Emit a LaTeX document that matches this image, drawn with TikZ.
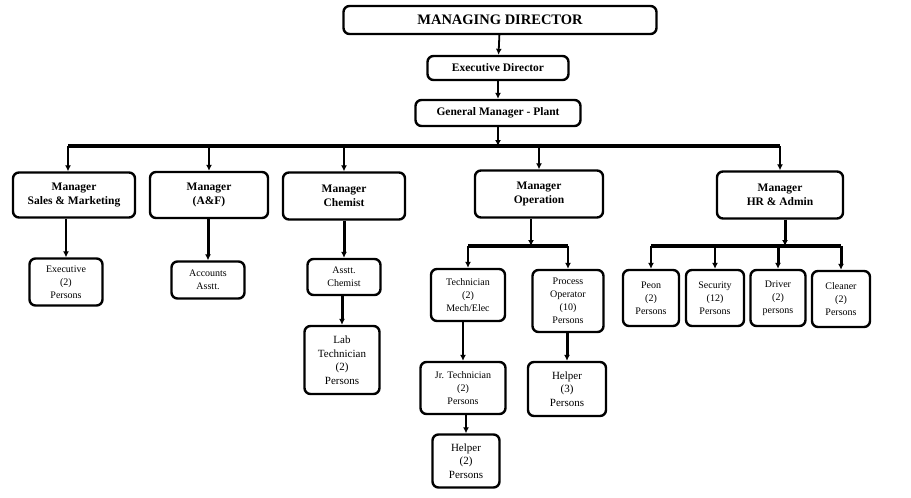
\documentclass[tikz,border=0pt]{standalone}
\usepackage{fontspec}
\setmainfont{Liberation Serif}
\usepackage{tikz}
\usetikzlibrary{positioning, arrows.meta}
\tikzset{
    orgbox/.style={draw, rounded corners=6pt, line width=2.4pt, align=center, inner sep=2pt},
    topbox/.style={orgbox, font=\fontsize{14.5}{16}\selectfont\bfseries},
    mgrbox/.style={orgbox, font=\fontsize{11.5}{14}\selectfont\bfseries},
    staffbox/.style={orgbox, font=\fontsize{10}{13}\selectfont},
    bigstaffbox/.style={orgbox, font=\fontsize{11}{13.5}\selectfont},
    boxsize/.style 2 args={minimum width=#1, minimum height=#2},
    link/.style={line width=1.8pt, -{Latex[length=6pt,width=6pt]}},
    heavylink/.style={line width=3pt, -{Latex[length=6pt,width=6pt]}},
    busline/.style={line width=3.5pt}
}

\begin{document}
\begin{tikzpicture}[x=1pt, y=-1pt]
    \useasboundingbox (0,0) rectangle (911,498);

    % top of the chart
    \node[topbox, boxsize={313pt}{28pt}] (md) at (500,20) {MANAGING DIRECTOR};
    \node[mgrbox, boxsize={141pt}{24pt}] (exec) at (498,68) {Executive Director};
    \node[mgrbox, boxsize={165pt}{26pt}] (gm) at (498,113) {General Manager - Plant};

    % managers
    \node[mgrbox, boxsize={122pt}{45pt}] (sales) at (74,195) {Manager\\Sales \& Marketing};
    \node[mgrbox, boxsize={118pt}{46pt}] (af) at (209,195) {Manager\\(A\&F)};
    \node[mgrbox, boxsize={122pt}{47pt}] (chem) at (344,196) {Manager\\Chemist};
    \node[mgrbox, boxsize={128pt}{47pt}] (ops) at (539,194) {Manager\\Operation};
    \node[mgrbox, boxsize={126pt}{47pt}] (hr) at (780,195) {Manager\\HR \& Admin};

    % staff under sales, accounts and chemist
    \node[staffbox, boxsize={73pt}{47pt}] (salesexec) at (66,282) {Executive\\(2)\\Persons};
    \node[staffbox, boxsize={73pt}{37pt}] (accts) at (208,280) {Accounts\\Asstt.};
    \node[staffbox, boxsize={73pt}{36pt}] (asstchem) at (344,277) {Asstt.\\Chemist};
    \node[bigstaffbox, boxsize={75pt}{68pt}] (labtech) at (342,360) {Lab\\Technician\\(2)\\Persons};

    % staff under operation
    \node[staffbox, boxsize={74pt}{52pt}] (tech) at (468,295) {Technician\\(2)\\Mech/Elec};
    \node[staffbox, boxsize={71pt}{62pt}] (procop) at (568,301) {Process\\Operator\\(10)\\Persons};
    \node[staffbox, boxsize={85pt}{52pt}] (jrtech) at (463,388) {Jr. Technician\\(2)\\Persons};
    \node[bigstaffbox, boxsize={78pt}{54pt}] (helperop) at (567,389) {Helper\\(3)\\Persons};
    \node[bigstaffbox, boxsize={67pt}{53pt}] (helpertech) at (466,461) {Helper\\(2)\\Persons};

    % staff under HR
    \node[staffbox, boxsize={56pt}{56pt}] (peon) at (651,298) {Peon\\(2)\\Persons};
    \node[staffbox, boxsize={58pt}{56pt}] (security) at (715,298) {Security\\(12)\\Persons};
    \node[staffbox, boxsize={55pt}{56pt}] (driver) at (778,298) {Driver\\(2)\\persons};
    \node[staffbox, boxsize={58pt}{56pt}] (cleaner) at (841,299) {Cleaner\\(2)\\Persons};

    % main bus
    \coordinate (busL) at (68,146);
    \coordinate (busR) at (780,146);
    \coordinate (opsbus) at (531,246);
    \coordinate (hrbus) at (785,246);

    \draw[link] (md) -- (exec);
    \draw[link] (exec) -- (gm);
    \draw[link] (gm) -- (gm |- busL);
    \draw[busline] (busL) -- (busR);
    \draw[link] (busL) -- (sales.north -| busL);
    \draw[link] (af |- busL) -- (af);
    \draw[link] (chem |- busL) -- (chem);
    \draw[link] (ops |- busL) -- (ops);
    \draw[link] (busR) -- (hr);

    \draw[link] (salesexec |- sales.south) -- (salesexec);
    \draw[heavylink] (accts |- af.south) -- (accts);
    \draw[heavylink] (asstchem |- chem.south) -- (asstchem);
    \draw[heavylink] (asstchem.south -| labtech) -- (labtech);

    % operation branch
    \draw[link] (ops.south -| opsbus) -- (opsbus);
    \draw[busline] (tech |- opsbus) -- (procop |- opsbus);
    \draw[link] (tech |- opsbus) -- (tech);
    \draw[link] (procop |- opsbus) -- (procop);
    \draw[link] (tech.south -| jrtech) -- (jrtech);
    \draw[heavylink] (procop.south -| helperop) -- (helperop);
    \draw[link] (jrtech.south -| helpertech) -- (helpertech);

    % HR branch
    \draw[heavylink] (hr.south -| hrbus) -- (hrbus);
    \draw[busline] (peon |- hrbus) -- (cleaner |- hrbus);
    \draw[link] (peon |- hrbus) -- (peon);
    \draw[link] (security |- hrbus) -- (security);
    \draw[heavylink] (driver |- hrbus) -- (driver);
    \draw[heavylink] (cleaner |- hrbus) -- (cleaner);
\end{tikzpicture}
\end{document}
